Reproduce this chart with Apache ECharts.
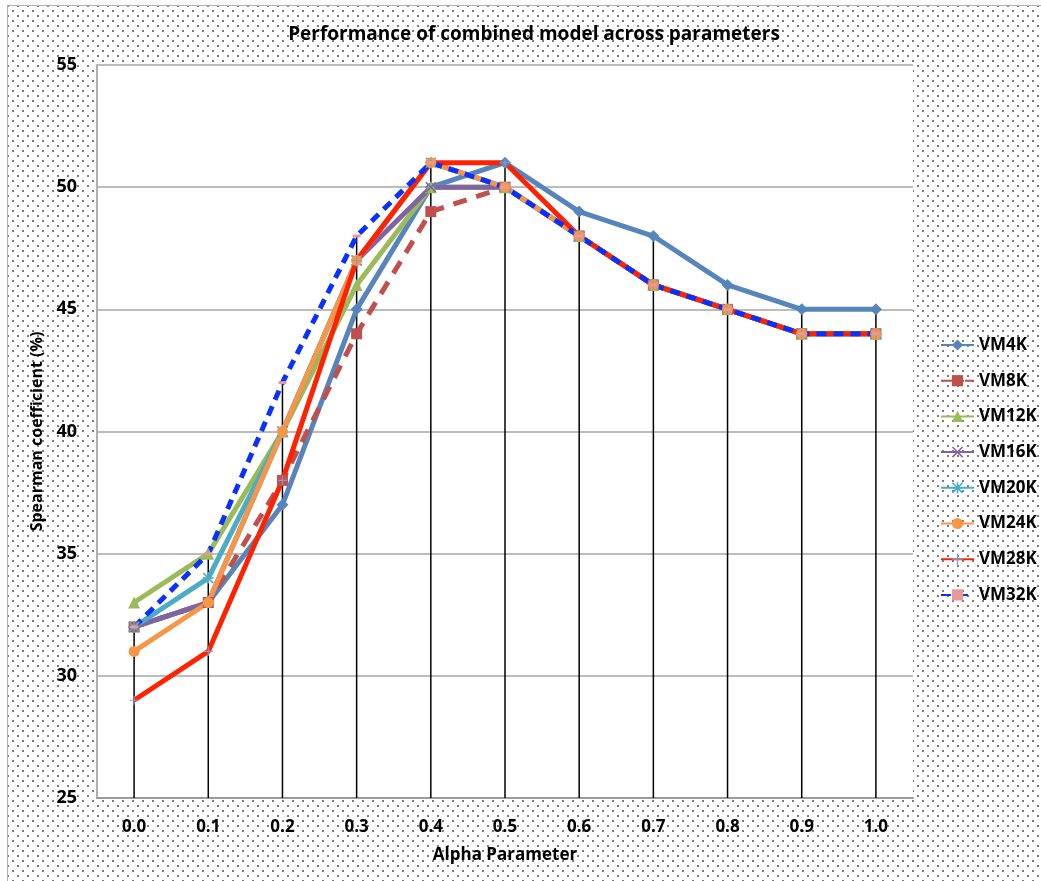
<!DOCTYPE html>
<html lang="en">
  <head>
    <meta charset="UTF-8" />
    <title>Performance of combined model across parameters</title>
    <script src="https://cdn.jsdelivr.net/npm/echarts@6/dist/echarts.min.js"></script>
    <style>
      html, body { margin: 0; padding: 0; background: #fff; }
      .paper {
        position: absolute;
        left: 7px;
        top: 5px;
        width: 1040px;
        height: 880px;
        border-left: 1px solid #b0b0b0;
        border-top: 1px solid #b0b0b0;
        background-color: #fff;
        background-image:
          radial-gradient(circle, #777 0.7px, transparent 0.9px),
          radial-gradient(circle, #777 0.7px, transparent 0.9px);
        background-size: 10px 10px;
        background-position: 0 0, 5px 5px;
      }
      .echarts {
        position: absolute;
        left: 0;
        top: 0;
        width: 1041px;
        height: 881px;
      }
    </style>
  </head>
  <body>
    <div class="paper"></div>
    <div class="echarts"></div>
    <script>
      const alphas = ['0.0', '0.1', '0.2', '0.3', '0.4', '0.5', '0.6', '0.7', '0.8', '0.9', '1.0']
      const yTicks = [25, 30, 35, 40, 45, 50, 55]

      const vm4k  = [32, 33, 37, 45, 50, 51, 49, 48, 46, 45, 45]
      const vm8k  = [32, 33, 38, 44, 49, 50, 48, 46, 45, 44, 44]
      const vm12k = [33, 35, 40, 46, 50, 50, 48, 46, 45, 44, 44]
      const vm16k = [32, 33, 40, 47, 50, 50, 48, 46, 45, 44, 44]
      const vm20k = [32, 34, 40, 47, 51, 50, 48, 46, 45, 44, 44]
      const vm24k = [31, 33, 40, 47, 51, 50, 48, 46, 45, 44, 44]
      const vm28k = [29, 31, 38, 47, 51, 51, 48, 46, 45, 44, 44]
      const vm32k = [32, 35, 42, 48, 51, 50, 48, 46, 45, 44, 44]

      // drop lines go down from the highest point of the group (VM12K sits outside it)
      const dropGroup = [vm4k, vm8k, vm16k, vm20k, vm24k, vm28k, vm32k]
      const dropTop = alphas.map((_, i) => Math.max(...dropGroup.map(s => s[i])))

      const xMark = 'path://M1,0L5,4L9,0L10,1L6,5L10,9L9,10L5,6L1,10L0,9L4,5L0,1Z'
      const starMark = 'path://M1,0L5,4L9,0L10,1L6,5L10,9L9,10L5,6L1,10L0,9L4,5L0,1Z M4.3,0H5.7V10H4.3Z M0,4.3H10V5.7H0Z'
      const plusMark = 'path://M4.4,0H5.6V4.4H10V5.6H5.6V10H4.4V5.6H0V4.4H4.4Z'

      const font = '"Open Sans", "Liberation Sans", sans-serif'

      function line(name, data, color, symbol, size, extra) {
        return Object.assign({
          name: name,
          type: 'line',
          data: data,
          symbol: symbol,
          symbolSize: size,
          showSymbol: true,
          lineStyle: { color: color, width: 5 },
          itemStyle: { color: color },
          emphasis: { disabled: true }
        }, extra || {})
      }

      const myCharts = echarts.init(document.querySelector('.echarts'))
      const option = {
        backgroundColor: 'transparent',
        animation: false,
        textStyle: { fontFamily: font },
        title: {
          text: 'Performance of combined model across parameters',
          left: 529,
          textAlign: 'center',
          top: 20,
          textStyle: { fontSize: 19, fontWeight: 'bold', color: '#000', fontFamily: font }
        },
        legend: {
          orient: 'vertical',
          left: 935,
          top: 331,
          itemWidth: 33,
          itemHeight: 14,
          itemGap: 17.7,
          data: ['VM4K', 'VM8K', 'VM12K', 'VM16K', 'VM20K', 'VM24K', 'VM28K', 'VM32K'],
          textStyle: { fontSize: 17, fontWeight: 'bold', color: '#000', lineHeight: 18, fontFamily: font }
        },
        grid: {
          left: 97,
          right: 128,
          top: 65,
          bottom: 83,
          show: true,
          backgroundColor: '#fff',
          borderWidth: 0
        },
        xAxis: {
          type: 'category',
          data: alphas,
          boundaryGap: true,
          name: 'Alpha Parameter',
          nameLocation: 'middle',
          nameGap: 49,
          nameTextStyle: { fontSize: 17, fontWeight: 'bold', color: '#000' },
          axisLine: { lineStyle: { color: '#9a9a9a', width: 2 } },
          axisTick: { show: false },
          axisLabel: { fontSize: 17, fontWeight: 'bold', color: '#000', margin: 21 }
        },
        yAxis: {
          type: 'value',
          min: yTicks[0],
          max: yTicks[yTicks.length - 1],
          interval: 5,
          name: 'Spearman coefficient (%)',
          nameLocation: 'middle',
          nameGap: 46,
          nameTextStyle: { fontSize: 16, fontWeight: 'bold', color: '#000' },
          axisLine: { show: true, lineStyle: { color: '#b0b0b0', width: 2 } },
          axisTick: { show: false },
          splitLine: { lineStyle: { color: '#a6a6a6', width: 1.5 } },
          axisLabel: { fontSize: 18, fontWeight: 'bold', color: '#000', margin: 20 }
        },
        series: [
          {
            name: 'drop',
            type: 'bar',
            data: dropTop,
            barWidth: 1.5,
            itemStyle: { color: '#000' },
            silent: true,
            z: 1
          },
          line('VM4K', vm4k, '#5585bb', 'diamond', 12),
          line('VM8K', vm8k, '#c0504d', 'rect', 11, { lineStyle: { color: '#c0504d', width: 5, type: [14, 10] } }),
          line('VM12K', vm12k, '#9bbb59', 'triangle', 12),
          line('VM16K', vm16k, '#8064a2', xMark, 11),
          line('VM20K', vm20k, '#4bacc6', starMark, 11),
          line('VM24K', vm24k, '#f79646', 'circle', 11),
          line('VM28K', vm28k, '#ff2200', plusMark, 9, { itemStyle: { color: '#8a9ac8' } }),
          line('VM32K', vm32k, '#0a30ff', 'rect', [8, 3], {
            lineStyle: { color: '#0a30ff', width: 5, type: [10, 7] },
            itemStyle: { color: '#e89a9a' }
          })
        ]
      }
      myCharts.setOption(option)
    </script>
  </body>
</html>
